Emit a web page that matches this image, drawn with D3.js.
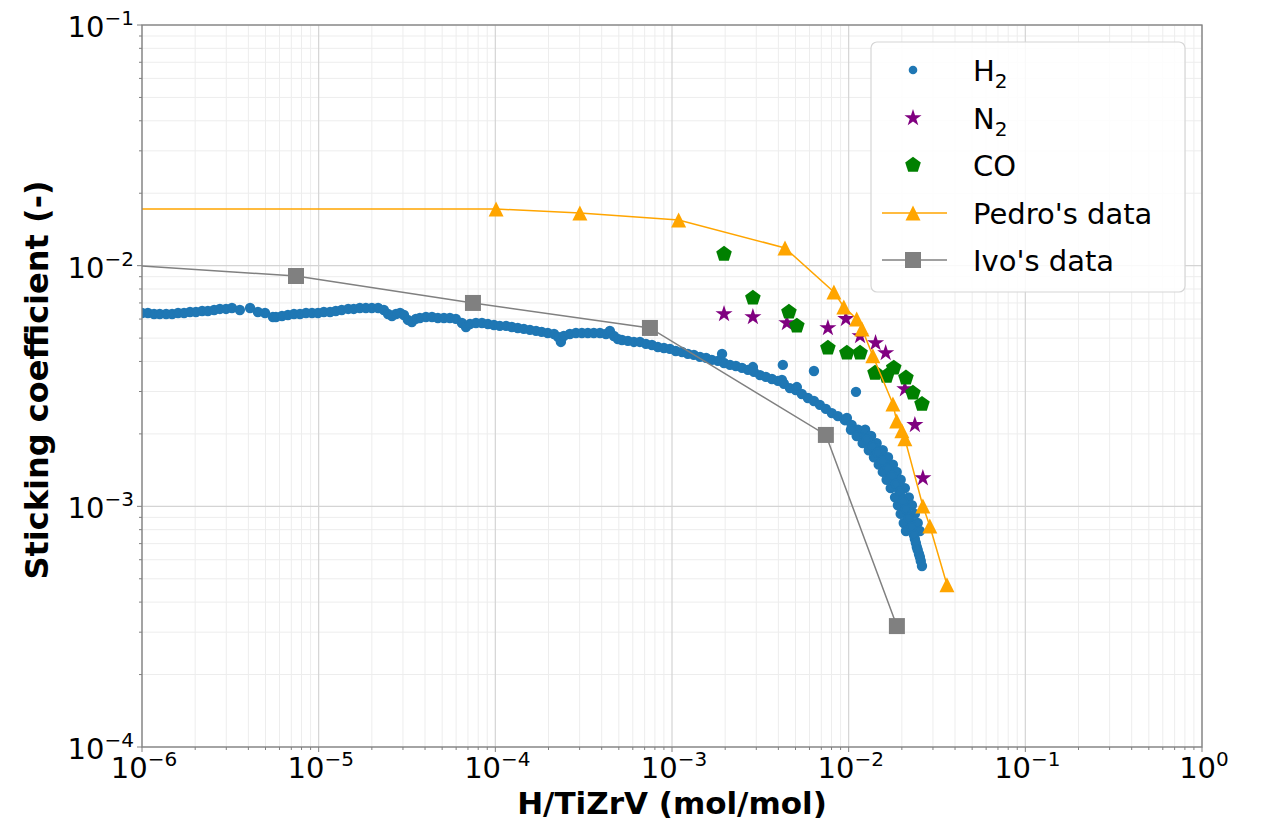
<!DOCTYPE html>
<html>
<head>
<meta charset="utf-8">
<script src="https://cdn.jsdelivr.net/npm/d3@7"></script>
<style>
  body { margin: 0; background: #fff; }
  svg { display: block; font-family: "DejaVu Sans", sans-serif; }
</style>
</head>
<body>
<svg id="chart" width="1261" height="823"></svg>
<script>
const h2X = [
  1.00e-6, 1.08e-6, 1.17e-6, 1.26e-6, 1.37e-6, 1.48e-6, 1.60e-6, 1.73e-6, 1.87e-6, 2.02e-6,
  2.19e-6, 2.36e-6, 2.56e-6, 2.76e-6, 2.99e-6, 3.23e-6, 3.58e-6, 4.09e-6, 4.53e-6, 4.97e-6,
  5.51e-6, 5.73e-6, 6.20e-6, 6.70e-6, 7.25e-6, 7.84e-6, 8.48e-6, 9.17e-6, 9.91e-6, 1.07e-5,
  1.16e-5, 1.25e-5, 1.35e-5, 1.47e-5, 1.58e-5, 1.71e-5, 1.85e-5, 2.00e-5, 2.17e-5, 2.34e-5,
  2.47e-5, 2.60e-5, 2.74e-5, 2.89e-5, 3.04e-5, 3.20e-5, 3.37e-5, 3.55e-5, 3.74e-5, 4.05e-5,
  4.38e-5, 4.73e-5, 5.12e-5, 5.53e-5, 5.98e-5, 6.47e-5, 6.82e-5, 7.18e-5, 7.77e-5, 8.40e-5,
  9.08e-5, 9.82e-5, 1.06e-4, 1.15e-4, 1.24e-4, 1.34e-4, 1.45e-4, 1.57e-4, 1.70e-4, 1.83e-4,
  1.98e-4, 2.15e-4, 2.26e-4, 2.35e-4, 2.44e-4, 2.64e-4, 2.86e-4, 3.09e-4, 3.34e-4, 3.61e-4,
  3.91e-4, 4.23e-4, 4.45e-4, 4.69e-4, 4.94e-4, 5.21e-4, 5.63e-4, 6.09e-4, 6.58e-4, 7.12e-4,
  7.70e-4, 8.32e-4, 9.00e-4, 9.73e-4, 1.05e-3, 1.14e-3, 1.23e-3, 1.33e-3, 1.44e-3, 1.56e-3,
  1.68e-3, 1.82e-3, 1.92e-3, 1.97e-3, 2.13e-3, 2.30e-3, 2.49e-3, 2.69e-3, 2.87e-3, 2.91e-3,
  3.15e-3, 3.40e-3, 3.68e-3, 3.98e-3, 4.19e-3, 4.30e-3, 4.65e-3, 5.02e-3, 5.09e-3, 5.43e-3,
  5.88e-3, 6.36e-3, 6.87e-3, 7.43e-3, 8.03e-3, 8.69e-3, 9.52e-3, 9.77e-3, 1.04e-2, 1.13e-2,
  1.22e-2, 1.32e-2, 1.42e-2, 1.52e-2, 1.62e-2, 1.71e-2, 1.80e-2, 1.90e-2, 2.00e-2, 2.08e-2,
  2.16e-2, 2.25e-2, 2.31e-2, 2.37e-2, 2.43e-2, 2.50e-2, 2.56e-2, 2.60e-2,
  1.03e-2, 1.11e-2, 1.20e-2, 1.30e-2, 1.39e-2, 1.48e-2, 1.56e-2, 1.64e-2, 1.73e-2, 1.83e-2,
  1.90e-2, 1.97e-2, 2.05e-2, 2.11e-2,
  1.24e-2, 1.34e-2, 1.44e-2, 1.56e-2, 1.67e-2, 1.78e-2, 1.87e-2, 1.97e-2, 2.08e-2, 2.19e-2,
  2.28e-2, 2.37e-2, 2.46e-2, 2.53e-2,
  1.27e-2, 1.37e-2, 1.46e-2, 1.56e-2, 1.67e-2, 1.76e-2, 1.85e-2, 1.95e-2, 2.03e-2, 2.11e-2,
  2.19e-2, 2.28e-2, 2.34e-2, 2.40e-2, 2.46e-2, 2.53e-2,
  4.24e-3, 6.36e-3, 1.10e-2
];
const h2Y = [
  6.36e-3, 6.36e-3, 6.30e-3, 6.30e-3, 6.30e-3, 6.30e-3, 6.36e-3, 6.36e-3, 6.42e-3, 6.42e-3,
  6.48e-3, 6.48e-3, 6.54e-3, 6.61e-3, 6.61e-3, 6.67e-3, 6.54e-3, 6.67e-3, 6.42e-3, 6.36e-3,
  6.12e-3, 6.12e-3, 6.18e-3, 6.24e-3, 6.30e-3, 6.30e-3, 6.36e-3, 6.36e-3, 6.36e-3, 6.42e-3,
  6.42e-3, 6.48e-3, 6.54e-3, 6.61e-3, 6.61e-3, 6.67e-3, 6.67e-3, 6.67e-3, 6.67e-3, 6.54e-3,
  6.30e-3, 6.18e-3, 6.30e-3, 6.36e-3, 6.24e-3, 5.95e-3, 5.83e-3, 6.01e-3, 6.06e-3, 6.12e-3,
  6.12e-3, 6.06e-3, 6.06e-3, 6.06e-3, 6.01e-3, 5.78e-3, 5.56e-3, 5.72e-3, 5.78e-3, 5.78e-3,
  5.72e-3, 5.67e-3, 5.62e-3, 5.62e-3, 5.56e-3, 5.51e-3, 5.46e-3, 5.41e-3, 5.36e-3, 5.31e-3,
  5.25e-3, 5.20e-3, 5.06e-3, 4.82e-3, 5.10e-3, 5.20e-3, 5.25e-3, 5.25e-3, 5.25e-3, 5.25e-3,
  5.25e-3, 5.20e-3, 5.36e-3, 5.10e-3, 4.96e-3, 4.91e-3, 4.87e-3, 4.82e-3, 4.82e-3, 4.73e-3,
  4.68e-3, 4.59e-3, 4.55e-3, 4.51e-3, 4.42e-3, 4.38e-3, 4.30e-3, 4.26e-3, 4.18e-3, 4.14e-3,
  4.06e-3, 4.02e-3, 4.30e-3, 3.94e-3, 3.87e-3, 3.83e-3, 3.76e-3, 3.69e-3, 3.79e-3, 3.62e-3,
  3.51e-3, 3.45e-3, 3.38e-3, 3.32e-3, 3.35e-3, 3.23e-3, 3.10e-3, 3.04e-3, 3.13e-3, 2.93e-3,
  2.82e-3, 2.74e-3, 2.64e-3, 2.54e-3, 2.44e-3, 2.37e-3, 2.28e-3, 2.33e-3, 2.18e-3, 2.08e-3,
  1.96e-3, 1.83e-3, 1.71e-3, 1.60e-3, 1.49e-3, 1.39e-3, 1.29e-3, 1.19e-3, 1.09e-3, 1.01e-3,
  9.30e-4, 8.53e-4, 7.90e-4, 7.32e-4, 6.78e-4, 6.34e-4, 5.93e-4, 5.65e-4,
  2.08e-3, 1.96e-3, 1.83e-3, 1.71e-3, 1.60e-3, 1.49e-3, 1.39e-3, 1.29e-3, 1.19e-3, 1.09e-3,
  1.01e-3, 9.30e-4, 8.53e-4, 7.90e-4,
  2.08e-3, 1.96e-3, 1.83e-3, 1.71e-3, 1.60e-3, 1.49e-3, 1.39e-3, 1.29e-3, 1.19e-3, 1.09e-3,
  1.01e-3, 9.30e-4, 8.53e-4, 7.90e-4,
  1.89e-3, 1.78e-3, 1.67e-3, 1.54e-3, 1.44e-3, 1.34e-3, 1.24e-3, 1.15e-3, 1.05e-3, 9.75e-4,
  8.95e-4, 8.21e-4, 7.60e-4, 7.05e-4, 6.59e-4, 6.16e-4,
  3.87e-3, 3.65e-3, 2.99e-3
];

const n2X = [1.97e-3, 2.87e-3, 4.47e-3, 7.63e-3, 9.64e-3, 1.16e-2, 1.42e-2, 1.62e-2, 2.08e-2, 2.37e-2, 2.63e-2];
const n2Y = [6.30e-3, 6.12e-3, 5.78e-3, 5.51e-3, 6.01e-3, 5.10e-3, 4.77e-3, 4.34e-3, 3.07e-3, 2.18e-3, 1.31e-3];

const coX = [1.97e-3, 2.87e-3, 4.59e-3, 5.09e-3, 7.63e-3, 9.77e-3, 1.16e-2, 1.41e-2, 1.64e-2, 1.80e-2, 2.11e-2, 2.31e-2, 2.60e-2];
const coY = [1.118e-2, 7.34e-3, 6.42e-3, 5.62e-3, 4.55e-3, 4.34e-3, 4.34e-3, 3.58e-3, 3.48e-3, 3.76e-3, 3.42e-3, 2.96e-3, 2.66e-3];

const pedroX = [1e-7, 1.01e-4, 3.01e-4, 1.09e-3, 4.36e-3, 8.25e-3, 9.39e-3, 1.11e-2, 1.19e-2, 1.37e-2, 1.78e-2, 1.87e-2, 2.00e-2, 2.08e-2, 2.63e-2, 2.88e-2, 3.60e-2];
const pedroY = [1.72e-2, 1.72e-2, 1.656e-2, 1.549e-2, 1.185e-2, 7.77e-3, 6.74e-3, 6.01e-3, 5.46e-3, 4.22e-3, 2.66e-3, 2.26e-3, 2.06e-3, 1.91e-3, 1.004e-3, 8.29e-4, 4.72e-4];

const ivoX = [7.5e-7, 7.44e-6, 7.47e-5, 7.5e-4, 7.43e-3, 1.875e-2];
const ivoY = [1.01e-2, 9.06e-3, 7.0e-3, 5.51e-3, 1.98e-3, 3.18e-4];

const xDecades = [-6, -5, -4, -3, -2, -1, 0];
const yDecades = [-4, -3, -2, -1];

const legendLabels = ["H", "N", "CO", "Pedro's data", "Ivo's data"];

const margin = { left: 142, right: 1202, top: 25, bottom: 747 };
const svg = d3.select("#chart");

const x = d3.scaleLog().domain([1e-6, 1]).range([margin.left, margin.right]);
const y = d3.scaleLog().domain([1e-4, 1e-1]).range([margin.bottom, margin.top]);

// graduations mineures 2..9 dans chaque decade
function minorTicks(decades) {
  const out = [];
  for (let i = 0; i < decades.length - 1; i++) {
    for (let m = 2; m <= 9; m++) out.push(m * Math.pow(10, decades[i]));
  }
  return out;
}
const xMinor = minorTicks(xDecades);
const yMinor = minorTicks(yDecades);
const xMajor = xDecades.map(d => Math.pow(10, d));
const yMajor = yDecades.map(d => Math.pow(10, d));

// Grille
const grid = svg.append("g");
grid.selectAll(".xm").data(xMinor).enter().append("line")
  .attr("x1", d => x(d)).attr("x2", d => x(d))
  .attr("y1", margin.top).attr("y2", margin.bottom)
  .attr("stroke", "#ededed").attr("stroke-width", 1);
grid.selectAll(".ym").data(yMinor).enter().append("line")
  .attr("x1", margin.left).attr("x2", margin.right)
  .attr("y1", d => y(d)).attr("y2", d => y(d))
  .attr("stroke", "#ededed").attr("stroke-width", 1);
grid.selectAll(".xM").data(xMajor).enter().append("line")
  .attr("x1", d => x(d)).attr("x2", d => x(d))
  .attr("y1", margin.top).attr("y2", margin.bottom)
  .attr("stroke", "#d4d4d4").attr("stroke-width", 1.2);
grid.selectAll(".yM").data(yMajor).enter().append("line")
  .attr("x1", margin.left).attr("x2", margin.right)
  .attr("y1", d => y(d)).attr("y2", d => y(d))
  .attr("stroke", "#d4d4d4").attr("stroke-width", 1.2);

// Zone de trace avec clip
svg.append("clipPath").attr("id", "clip").append("rect")
  .attr("x", margin.left).attr("y", margin.top)
  .attr("width", margin.right - margin.left).attr("height", margin.bottom - margin.top);
const plot = svg.append("g").attr("clip-path", "url(#clip)");

function zip(xs, ys) { return xs.map((v, i) => [v, ys[i]]); }

// Formes des marqueurs
function starPath(r) {
  const pts = [];
  for (let i = 0; i < 10; i++) {
    const rr = i % 2 === 0 ? r : r * 0.382;
    const a = -Math.PI / 2 + i * Math.PI / 5;
    pts.push([rr * Math.cos(a), rr * Math.sin(a)]);
  }
  return "M" + pts.map(p => p.join(",")).join("L") + "Z";
}
function pentagonPath(r) {
  const pts = [];
  for (let i = 0; i < 5; i++) {
    const a = -Math.PI / 2 + i * 2 * Math.PI / 5;
    pts.push([r * Math.cos(a), r * Math.sin(a)]);
  }
  return "M" + pts.map(p => p.join(",")).join("L") + "Z";
}
function trianglePath(h) {
  return "M0," + (-h) + "L" + (-h) + "," + h + "L" + h + "," + h + "Z";
}
function squarePath(h) {
  return "M" + (-h) + "," + (-h) + "H" + h + "V" + h + "H" + (-h) + "Z";
}

const colors = { h2: "#1f77b4", n2: "#800080", co: "#008000", pedro: "#ffa500", ivo: "#808080" };

// H2 (le contour epaissit la bande comme sur l'original)
plot.selectAll(".h2").data(zip(h2X, h2Y)).enter().append("circle")
  .attr("cx", d => x(d[0])).attr("cy", d => y(d[1])).attr("r", 4.3)
  .attr("fill", colors.h2).attr("stroke", colors.h2).attr("stroke-width", 1.8);

// N2
plot.selectAll(".n2").data(zip(n2X, n2Y)).enter().append("path")
  .attr("d", starPath(9))
  .attr("transform", d => "translate(" + x(d[0]) + "," + y(d[1]) + ")")
  .attr("fill", colors.n2);

// CO
plot.selectAll(".co").data(zip(coX, coY)).enter().append("path")
  .attr("d", pentagonPath(8.2))
  .attr("transform", d => "translate(" + x(d[0]) + "," + y(d[1]) + ")")
  .attr("fill", colors.co);

const line = d3.line().x(d => x(d[0])).y(d => y(d[1]));

// Pedro
plot.append("path").datum(zip(pedroX, pedroY))
  .attr("d", line).attr("fill", "none")
  .attr("stroke", colors.pedro).attr("stroke-width", 1.5);
plot.selectAll(".pedro").data(zip(pedroX, pedroY)).enter().append("path")
  .attr("d", trianglePath(7.5))
  .attr("transform", d => "translate(" + x(d[0]) + "," + y(d[1]) + ")")
  .attr("fill", colors.pedro);

// Ivo
plot.append("path").datum(zip(ivoX, ivoY))
  .attr("d", line).attr("fill", "none")
  .attr("stroke", colors.ivo).attr("stroke-width", 1.5);
plot.selectAll(".ivo").data(zip(ivoX, ivoY)).enter().append("path")
  .attr("d", squarePath(8))
  .attr("transform", d => "translate(" + x(d[0]) + "," + y(d[1]) + ")")
  .attr("fill", colors.ivo);

// Cadre
svg.append("rect")
  .attr("x", margin.left).attr("y", margin.top)
  .attr("width", margin.right - margin.left).attr("height", margin.bottom - margin.top)
  .attr("fill", "none").attr("stroke", "#808080").attr("stroke-width", 1.3);

// Graduations
const ticks = svg.append("g").attr("stroke", "#808080");
xMajor.forEach(v => ticks.append("line").attr("x1", x(v)).attr("x2", x(v)).attr("y1", margin.bottom).attr("y2", margin.bottom + 5));
xMinor.forEach(v => ticks.append("line").attr("x1", x(v)).attr("x2", x(v)).attr("y1", margin.bottom).attr("y2", margin.bottom + 3));
yMajor.forEach(v => ticks.append("line").attr("y1", y(v)).attr("y2", y(v)).attr("x1", margin.left).attr("x2", margin.left - 5));
yMinor.forEach(v => ticks.append("line").attr("y1", y(v)).attr("y2", y(v)).attr("x1", margin.left).attr("x2", margin.left - 3));

// Etiquettes 10^n
function powerLabel(sel, exp) {
  sel.append("tspan").text("10");
  sel.append("tspan").attr("font-size", 20).attr("dy", -12).text(exp < 0 ? "\u2212" + (-exp) : String(exp));
}
xDecades.forEach(d => {
  const t = svg.append("text").attr("x", x(Math.pow(10, d)) + 2).attr("y", 778)
    .attr("text-anchor", "middle").attr("font-size", 29).attr("fill", "#000");
  powerLabel(t, d);
});
yDecades.forEach(d => {
  const t = svg.append("text").attr("x", 134).attr("y", y(Math.pow(10, d)) + 12)
    .attr("text-anchor", "end").attr("font-size", 29).attr("fill", "#000");
  powerLabel(t, d);
});

// Titres des axes
svg.append("text").attr("x", 672).attr("y", 814)
  .attr("text-anchor", "middle").attr("font-size", 31).attr("font-weight", "bold")
  .text("H/TiZrV (mol/mol)");
svg.append("text").attr("transform", "translate(48,380) rotate(-90)")
  .attr("text-anchor", "middle").attr("font-size", 32).attr("font-weight", "bold")
  .text("Sticking coefficient (-)");

// Legende
const legend = svg.append("g");
legend.append("rect").attr("x", 871).attr("y", 42).attr("width", 314).attr("height", 250)
  .attr("rx", 6).attr("fill", "#fff").attr("fill-opacity", 0.85)
  .attr("stroke", "#d6d6d6").attr("stroke-width", 1.2);

const rowY = [70, 118, 165, 213, 260];
const mx = 913, tx = 973;
legend.append("circle").attr("cx", mx).attr("cy", rowY[0]).attr("r", 4.3).attr("fill", colors.h2);
legend.append("path").attr("d", starPath(9)).attr("transform", "translate(" + mx + "," + rowY[1] + ")").attr("fill", colors.n2);
legend.append("path").attr("d", pentagonPath(8.2)).attr("transform", "translate(" + mx + "," + rowY[2] + ")").attr("fill", colors.co);
legend.append("line").attr("x1", 882).attr("x2", 947).attr("y1", rowY[3]).attr("y2", rowY[3]).attr("stroke", colors.pedro).attr("stroke-width", 1.5);
legend.append("path").attr("d", trianglePath(7.5)).attr("transform", "translate(" + mx + "," + rowY[3] + ")").attr("fill", colors.pedro);
legend.append("line").attr("x1", 882).attr("x2", 947).attr("y1", rowY[4]).attr("y2", rowY[4]).attr("stroke", colors.ivo).attr("stroke-width", 1.5);
legend.append("path").attr("d", squarePath(8)).attr("transform", "translate(" + mx + "," + rowY[4] + ")").attr("fill", colors.ivo);

legendLabels.forEach((lab, i) => {
  const t = legend.append("text").attr("x", tx).attr("y", rowY[i] + 11).attr("font-size", 29).attr("fill", "#000");
  t.append("tspan").text(lab);
  if (i < 2) t.append("tspan").attr("font-size", 20).attr("dy", 7).text("2");
});
</script>
</body>
</html>
